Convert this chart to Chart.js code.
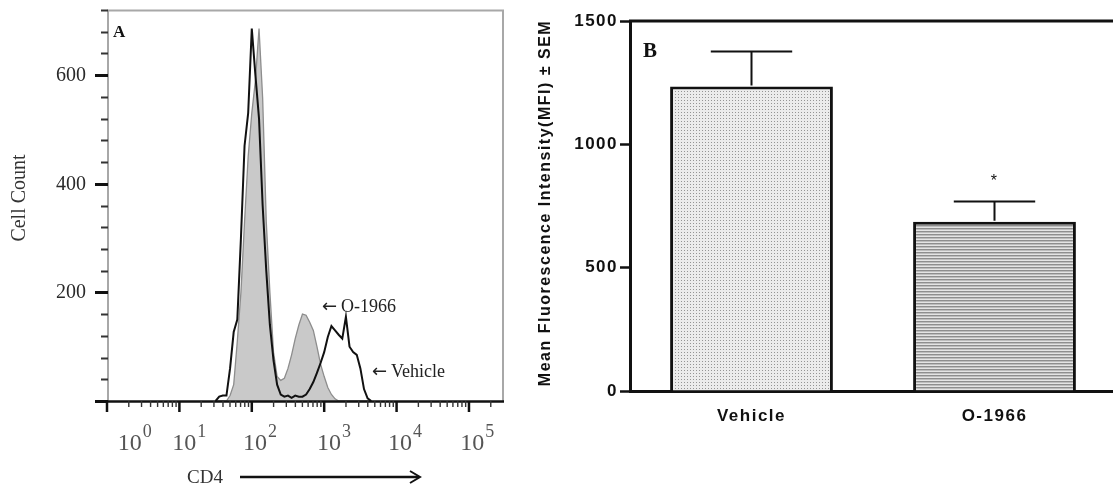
<!DOCTYPE html>
<html>
<head>
<meta charset="utf-8">
<script src="https://cdn.jsdelivr.net/npm/chart.js@4.4.0/dist/chart.umd.min.js"></script>
<style>
  html, body { margin: 0; padding: 0; background: #fff; overflow: hidden; }
  #wrap { position: relative; width: 1113px; height: 487px; overflow: hidden; }
  #histA { position: absolute; left: 0; top: 0; }
  #barsB { position: absolute; left: 500px; top: 0; }
</style>
</head>
<body>
<div id="wrap">
  <canvas id="histA" width="520" height="487"></canvas>
  <canvas id="barsB" width="630" height="487"></canvas>
</div>
<script>
// ---- panel A: CD4 histogram (x in log10 decades) ----
const bins = [1.50, 1.55, 1.60, 1.65, 1.70, 1.75, 1.80, 1.85, 1.90, 1.95,
              2.00, 2.05, 2.10, 2.15, 2.20, 2.25, 2.30, 2.35, 2.40, 2.45,
              2.50, 2.55, 2.60, 2.65, 2.70, 2.75, 2.80, 2.85, 2.90, 2.95,
              3.00, 3.05, 3.10, 3.15, 3.20, 3.25, 3.30, 3.35, 3.40, 3.45,
              3.50, 3.55, 3.60, 3.65];
const vehicleCounts = [0, 8, 10, 10, 60, 127, 150, 300, 470, 530,
                       686, 600, 520, 360, 240, 140, 75, 30, 12, 8,
                       10, 6, 10, 8, 8, 12, 22, 35, 52, 70,
                       90, 118, 138, 130, 122, 115, 155, 100, 90, 85,
                       60, 22, 5, 0];
const o1966Counts = [0, 0, 0, 0, 10, 30, 110, 200, 330, 450,
                     530, 590, 686, 558, 330, 200, 90, 45, 38, 42,
                     60, 85, 115, 140, 160, 158, 145, 130, 100, 68,
                     45, 25, 12, 4, 0, 0, 0, 0, 0, 0,
                     0, 0, 0, 0];
const yMajorTicks = [0, 200, 400, 600];
const yMajorLabels = ['', '200', '400', '600'];
const yMinorTicks = [40, 80, 120, 160, 240, 280, 320, 360, 440, 480, 520, 560, 640, 680, 720];
const xDecades = [0, 1, 2, 3, 4, 5];
const xDecadeExp = ['0', '1', '2', '3', '4', '5'];
const xLabelPos = [0.15, 0.90, 1.88, 2.90, 3.88, 4.88];

// ---- panel B: MFI bars ----
const groups = ['Vehicle', 'O-1966'];
const mfiMean = [1234, 686];
const mfiSem = [142, 82];
const significance = ['', '*'];

const serif = '"Liberation Serif", "Times New Roman", serif';
const sans = '"Liberation Sans", Arial, sans-serif';

const histAxes = {
  id: 'histAxes',
  afterDraw(chart) {
    const { ctx, chartArea: a, scales: { x, y } } = chart;
    ctx.save();
    // grey frame (left, top, right)
    ctx.strokeStyle = '#a8a8a8';
    ctx.lineWidth = 2;
    ctx.beginPath();
    ctx.moveTo(a.left + 1, a.bottom);
    ctx.lineTo(a.left + 1, a.top + 0.5);
    ctx.lineTo(a.right, a.top + 0.5);
    ctx.lineTo(a.right, a.bottom);
    ctx.stroke();
    // black baseline
    ctx.strokeStyle = '#111';
    ctx.lineWidth = 2.5;
    ctx.beginPath();
    ctx.moveTo(a.left - 12, a.bottom + 0.5);
    ctx.lineTo(a.right + 1, a.bottom + 0.5);
    ctx.stroke();

    // y ticks
    yMinorTicks.forEach(v => {
      const py = Math.round(y.getPixelForValue(v)) + 0.5;
      ctx.strokeStyle = '#333';
      ctx.lineWidth = 2;
      ctx.beginPath(); ctx.moveTo(a.left - 6, py); ctx.lineTo(a.left + 1, py); ctx.stroke();
    });
    ctx.font = '20px ' + serif;
    ctx.fillStyle = '#2a2a2a';
    ctx.textAlign = 'right';
    ctx.textBaseline = 'middle';
    yMajorTicks.forEach((v, i) => {
      const py = Math.round(y.getPixelForValue(v)) + 0.5;
      ctx.strokeStyle = '#111';
      ctx.lineWidth = 3;
      ctx.beginPath(); ctx.moveTo(a.left - 12, py); ctx.lineTo(a.left + 1, py); ctx.stroke();
      if (yMajorLabels[i]) ctx.fillText(yMajorLabels[i], a.left - 21, py);
    });

    // x ticks (log decades)
    xDecades.forEach(d => {
      const px = x.getPixelForValue(d);
      ctx.strokeStyle = '#111';
      ctx.lineWidth = 2.5;
      ctx.beginPath(); ctx.moveTo(px, a.bottom); ctx.lineTo(px, a.bottom + 11); ctx.stroke();
      for (let k = 2; k <= 9; k++) {
        const v = d + Math.log10(k);
        if (v > x.max) break;
        const pm = x.getPixelForValue(v);
        ctx.lineWidth = 1.4;
        ctx.strokeStyle = '#333';
        ctx.beginPath(); ctx.moveTo(pm, a.bottom); ctx.lineTo(pm, a.bottom + 6); ctx.stroke();
      }
    });
    ctx.textAlign = 'left';
    ctx.textBaseline = 'alphabetic';
    ctx.fillStyle = '#555';
    xDecades.forEach((d, i) => {
      const left = x.getPixelForValue(xLabelPos[i]);
      ctx.font = '24px ' + serif;
      ctx.fillText('10', left, 450);
      const w = ctx.measureText('10').width;
      ctx.font = '18px ' + serif;
      ctx.fillText(xDecadeExp[i], left + w + 1, 437);
    });

    // axis titles
    ctx.fillStyle = '#333';
    ctx.font = '20px ' + serif;
    ctx.save();
    ctx.translate(20, 198);
    ctx.rotate(-Math.PI / 2);
    ctx.textAlign = 'center';
    ctx.textBaseline = 'middle';
    ctx.fillText('Cell Count', 0, 0);
    ctx.restore();

    ctx.font = '19px ' + serif;
    ctx.fillText('CD4', 187, 483);
    ctx.strokeStyle = '#111';
    ctx.lineWidth = 2.5;
    ctx.beginPath(); ctx.moveTo(240, 477); ctx.lineTo(419, 477); ctx.stroke();
    ctx.lineWidth = 2;
    ctx.beginPath(); ctx.moveTo(410, 471); ctx.lineTo(420, 477); ctx.lineTo(410, 483); ctx.stroke();

    // panel letter and series labels
    ctx.fillStyle = '#111';
    ctx.font = 'bold 17px ' + serif;
    ctx.fillText('A', a.left + 6, a.top + 27);
    ctx.fillStyle = '#222';
    ctx.font = '18px ' + serif;
    const arrowFont = '18px "DejaVu Sans", sans-serif';
    [['O-1966', 2.97, 164], ['Vehicle', 3.66, 44]].forEach(([txt, dx, cy]) => {
      const px = x.getPixelForValue(dx);
      const py = y.getPixelForValue(cy);
      ctx.font = arrowFont;
      ctx.fillText('\u2190', px, py);
      ctx.font = '18px ' + serif;
      ctx.fillText(txt, px + 19, py);
    });
    ctx.restore();
  }
};

new Chart(document.getElementById('histA'), {
  type: 'line',
  data: {
    datasets: [
      {
        label: 'Vehicle',
        data: bins.map((b, i) => ({ x: b, y: vehicleCounts[i] })),
        borderColor: '#111',
        borderWidth: 2,
        pointRadius: 0,
        tension: 0,
        fill: false,
        order: 0,
      },
      {
        label: 'O-1966',
        data: bins.map((b, i) => ({ x: b, y: o1966Counts[i] })),
        borderColor: '#8d8d8d',
        borderWidth: 1.3,
        backgroundColor: '#c9c9c9',
        pointRadius: 0,
        tension: 0,
        fill: 'origin',
        order: 1,
      },
    ],
  },
  options: {
    responsive: false,
    animation: false,
    layout: { padding: { left: 107, top: 10, right: 17, bottom: 86 } },
    plugins: { legend: { display: false }, tooltip: { enabled: false } },
    scales: {
      x: { type: 'linear', min: 0, max: 5.47, display: false },
      y: { min: 0, max: 720, display: false },
    },
  },
  plugins: [histAxes],
});

// ---- panel B ----
function makePattern(w, h, draw) {
  const c = document.createElement('canvas');
  c.width = w; c.height = h;
  const g = c.getContext('2d');
  draw(g);
  return g.createPattern(c, 'repeat');
}
const dotPattern = makePattern(3, 3, g => {
  g.fillStyle = '#ececec'; g.fillRect(0, 0, 3, 3);
  g.fillStyle = '#959595'; g.fillRect(1, 1, 1, 1);
});
const stripePattern = makePattern(1, 3, g => {
  g.fillStyle = '#e4e4e4'; g.fillRect(0, 0, 1, 3);
  g.fillStyle = '#8e8e8e'; g.fillRect(0, 0, 1, 1);
  g.fillStyle = '#bdbdbd'; g.fillRect(0, 1, 1, 1);
});

const tracking = {
  id: 'tracking',
  beforeUpdate(chart) { chart.ctx.letterSpacing = '1.5px'; },
  beforeDraw(chart) { chart.ctx.letterSpacing = '1.5px'; },
};

const barExtras = {
  id: 'barExtras',
  afterDatasetsDraw(chart) {
    const { ctx, chartArea: a, scales: { y } } = chart;
    const meta = chart.getDatasetMeta(0);
    ctx.save();
    // top frame line
    ctx.strokeStyle = '#111';
    ctx.lineWidth = 3;
    ctx.beginPath(); ctx.moveTo(a.left - 1, a.top); ctx.lineTo(a.right + 2, a.top); ctx.stroke();
    // one-sided SEM bars
    meta.data.forEach((bar, i) => {
      const top = y.getPixelForValue(mfiMean[i] + mfiSem[i]);
      const half = bar.width / 4;
      ctx.lineWidth = 2;
      ctx.beginPath();
      ctx.moveTo(bar.x, bar.y - 1); ctx.lineTo(bar.x, top);
      ctx.moveTo(bar.x - half, top); ctx.lineTo(bar.x + half, top);
      ctx.stroke();
      if (significance[i]) {
        ctx.fillStyle = '#111';
        ctx.font = '16px ' + sans;
        ctx.textAlign = 'center';
        ctx.textBaseline = 'alphabetic';
        ctx.fillText(significance[i], bar.x, top - 16);
      }
    });
    ctx.restore();
  },
  afterDraw(chart) {
    const { ctx, chartArea: a } = chart;
    ctx.save();
    ctx.letterSpacing = '1.5px';
    ctx.fillStyle = '#111';
    ctx.font = 'bold 16px ' + sans;
    ctx.translate(46, 203);
    ctx.rotate(-Math.PI / 2);
    ctx.textAlign = 'center';
    ctx.textBaseline = 'middle';
    ctx.fillText('Mean Fluorescence Intensity(MFI) \u00b1 SEM', 0, 0);
    ctx.restore();
    ctx.save();
    ctx.letterSpacing = '0px';
    ctx.fillStyle = '#111';
    ctx.font = 'bold 21px ' + serif;
    ctx.fillText('B', a.left + 13, a.top + 36);
    ctx.restore();
  }
};

const tickFont = { family: sans, size: 17, weight: 'bold' };

new Chart(document.getElementById('barsB'), {
  type: 'bar',
  data: {
    labels: groups,
    datasets: [{
      data: mfiMean,
      backgroundColor: [dotPattern, stripePattern],
      borderColor: '#111',
      borderWidth: 3,
      barPercentage: 0.67,
      categoryPercentage: 1,
    }],
  },
  options: {
    responsive: false,
    animation: false,
    layout: { padding: { left: 0, top: 21, right: 14, bottom: 0 } },
    plugins: { legend: { display: false }, tooltip: { enabled: false } },
    scales: {
      x: {
        afterFit: s => { s.height = 96; },
        ticks: { font: tickFont, color: '#111', padding: 7 },
        grid: { display: false },
        border: { color: '#111', width: 3 },
      },
      y: {
        min: 0,
        max: 1500,
        afterFit: s => { s.width = 130; },
        ticks: { stepSize: 500, font: tickFont, color: '#111', padding: 2, callback: v => String(v) },
        grid: { drawOnChartArea: false, tickLength: 10, tickWidth: 2.5, tickColor: '#111' },
        border: { color: '#111', width: 3 },
      },
    },
  },
  plugins: [tracking, barExtras],
});
</script>
</body>
</html>
